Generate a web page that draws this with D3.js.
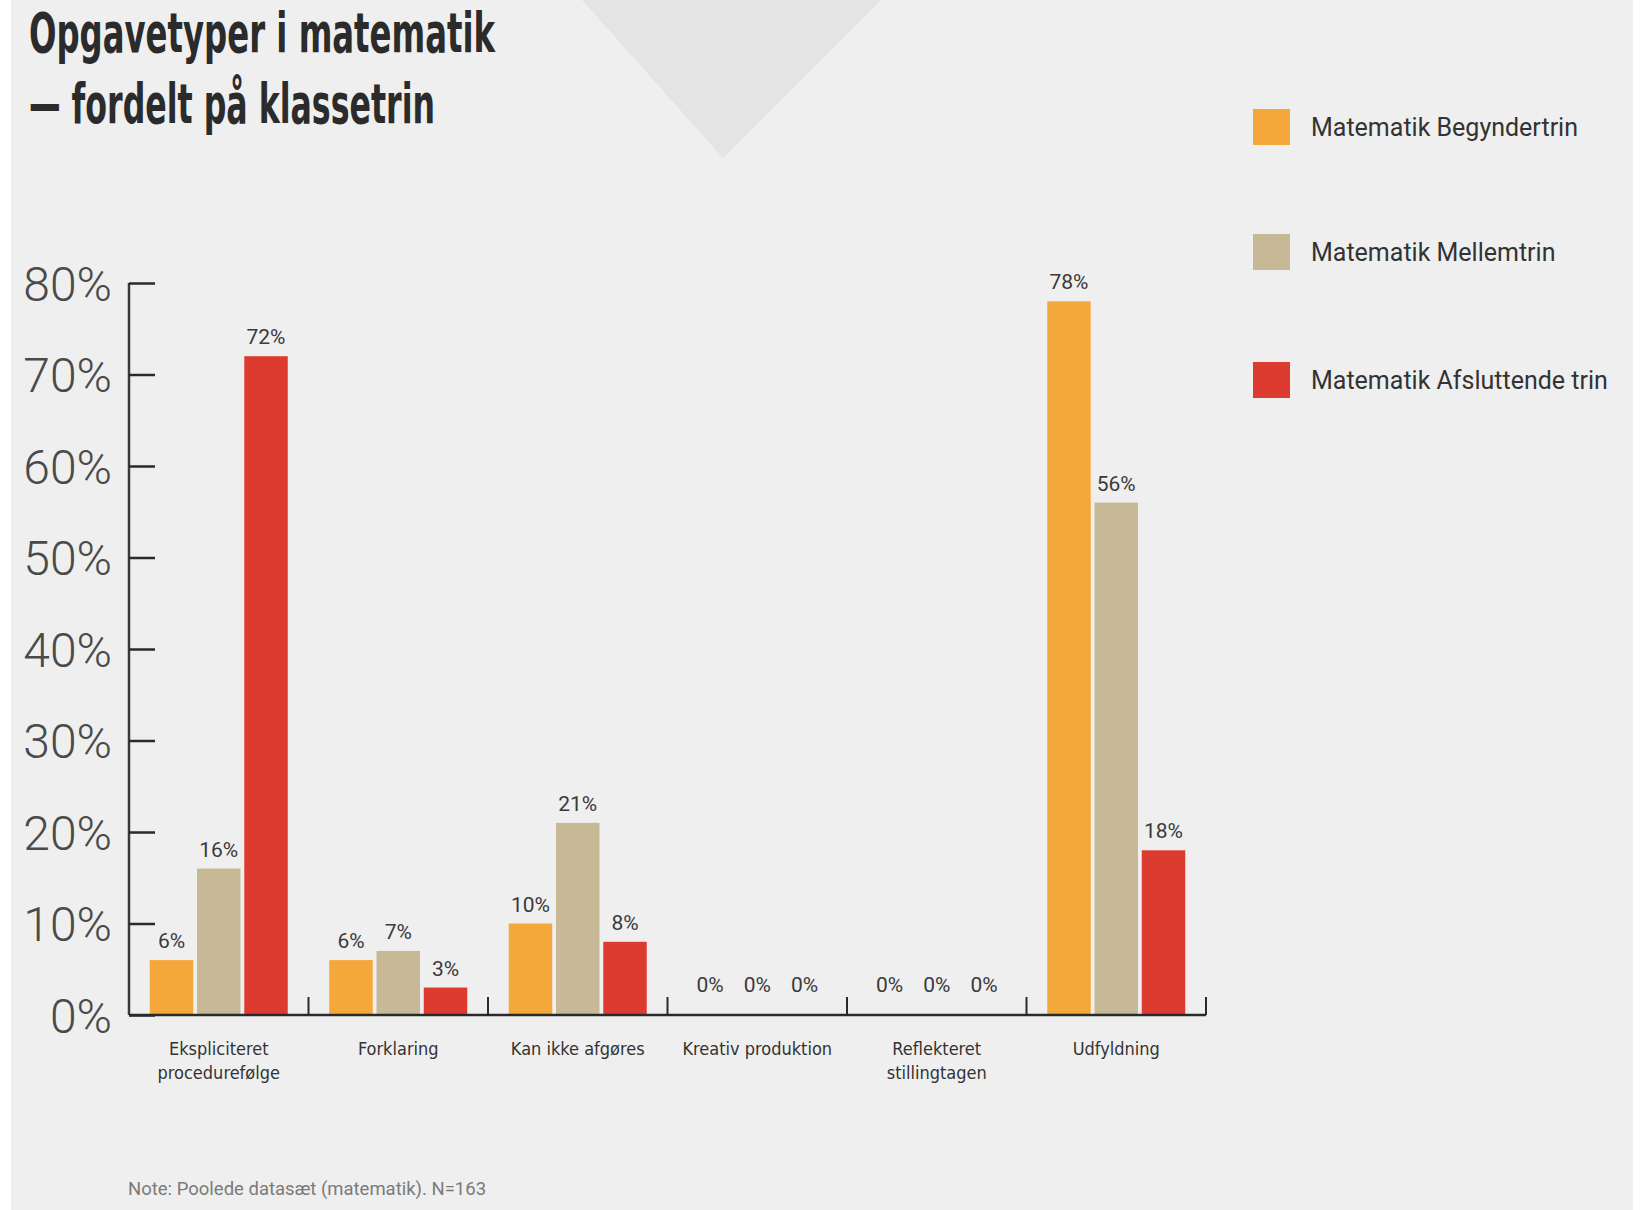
<!DOCTYPE html>
<html lang="da">
<meta charset="utf-8">
<title>Opgavetyper i matematik</title>
<script src="https://d3js.org/d3.v7.min.js"></script>
<style>
  body { margin: 0; background: #ffffff; }
  .tick-label { font-family: Roboto, "Liberation Sans", sans-serif; font-weight: 300; fill: #4a4a4a; }
  .cat-label { font-family: "Liberation Sans Narrow", "DejaVu Sans Condensed", sans-serif; fill: #333; }
  .val-label { font-family: Roboto, "Liberation Sans", sans-serif; fill: #3a3a3a; }
  .legend-text { font-family: Roboto, "Liberation Sans", sans-serif; fill: #333; }
</style>
<body>
<div id="chart"></div>
<script>
  // ---- data ----
  const categories = ["Ekspliciteret procedurefølge", "Forklaring", "Kan ikke afgøres",
                      "Kreativ produktion", "Reflekteret stillingtagen", "Udfyldning"];
  const categoryLines = [["Ekspliciteret", "procedurefølge"], ["Forklaring"], ["Kan ikke afgøres"],
                         ["Kreativ produktion"], ["Reflekteret", "stillingtagen"], ["Udfyldning"]];
  const series = ["Matematik Begyndertrin", "Matematik Mellemtrin", "Matematik Afsluttende trin"];
  const begyndertrin = [6, 6, 10, 0, 0, 78];
  const mellemtrin   = [16, 7, 21, 0, 0, 56];
  const afsluttende  = [72, 3, 8, 0, 0, 18];
  const yTicks = [0, 10, 20, 30, 40, 50, 60, 70, 80];
  const colors = ["#f4a83a", "#c7b995", "#de3b30"];

  const values = [begyndertrin, mellemtrin, afsluttende];

  const W = 1644, H = 1210;
  const svg = d3.select("#chart").append("svg")
    .attr("width", W).attr("height", H);

  // paper background
  svg.append("rect").attr("x", 11).attr("y", 0).attr("width", 1622).attr("height", H)
    .attr("fill", "#efefef");
  // faint shape from the printed page
  svg.append("polygon").attr("points", "582,0 881,0 723,158").attr("fill", "#e4e4e4");

  // ---- title ----
  const title = svg.append("g")
    .style("font-family", "'Liberation Sans Narrow', 'DejaVu Sans Condensed', sans-serif")
    .style("font-weight", "bold").style("fill", "#2b2b2b").style("font-size", "56px");
  title.append("text").attr("x", 29).attr("y", 52)
    .attr("textLength", 466).attr("lengthAdjust", "spacingAndGlyphs")
    .text("Opgavetyper i matematik");
  title.append("text").attr("x", 29).attr("y", 123)
    .attr("textLength", 406).attr("lengthAdjust", "spacingAndGlyphs")
    .text("— fordelt på klassetrin");

  // ---- scales ----
  const y = d3.scaleLinear().domain([0, 80]).range([1015, 283]);
  const x0 = d3.scaleBand().domain(categories).range([129, 1206]);
  const groupW = 138;
  const x1 = d3.scaleBand().domain(series).range([0, groupW]).paddingInner(0.08);
  const color = d3.scaleOrdinal().domain(series).range(colors);

  // ---- y axis ----
  const yAxis = svg.append("g")
    .attr("transform", "translate(129,0)")
    .call(d3.axisLeft(y).tickValues(yTicks).tickSize(-26).tickPadding(17)
      .tickFormat(d => d + "%"));
  yAxis.select(".domain").attr("stroke", "#3a3a3a").attr("stroke-width", 2.5)
    .attr("d", "M0," + y(80) + "V" + y(0));
  yAxis.selectAll(".tick line").attr("stroke", "#2a2a2a").attr("stroke-width", 2.5);
  yAxis.selectAll(".tick text").attr("class", "tick-label").style("font-size", "48px")
    .attr("dy", "0.36em");

  // ---- bars ----
  const rows = categories.map((c, i) => ({
    cat: c, lines: categoryLines[i],
    vals: series.map((s, j) => ({ s: s, v: values[j][i] }))
  }));
  const offset = (x0.bandwidth() - groupW) / 2;

  const groups = svg.append("g").selectAll("g").data(rows).join("g")
    .attr("transform", d => "translate(" + (x0(d.cat) + offset) + ",0)");

  groups.selectAll("rect").data(d => d.vals).join("rect")
    .attr("x", d => x1(d.s))
    .attr("y", d => y(d.v))
    .attr("width", x1.bandwidth())
    .attr("height", d => y(0) - y(d.v))
    .attr("fill", d => color(d.s));

  groups.selectAll("text").data(d => d.vals).join("text")
    .attr("class", "val-label")
    .attr("x", d => x1(d.s) + x1.bandwidth() / 2)
    .attr("y", d => Math.min(y(d.v) - 12, y(0) - 23))
    .attr("text-anchor", "middle")
    .style("font-size", "21px")
    .text(d => d.v + "%");

  // ---- x axis ----
  const xAxis = svg.append("g");
  xAxis.append("line").attr("x1", 129).attr("x2", 1206)
    .attr("y1", y(0)).attr("y2", y(0))
    .attr("stroke", "#2a2a2a").attr("stroke-width", 2.5);
  xAxis.selectAll(".sep").data(categories).join("line")
    .attr("class", "sep")
    .attr("x1", d => x0(d) + x0.bandwidth()).attr("x2", d => x0(d) + x0.bandwidth())
    .attr("y1", y(0)).attr("y2", y(0) - 18)
    .attr("stroke", "#2a2a2a").attr("stroke-width", 2);

  const catText = xAxis.selectAll(".cat-label").data(rows).join("text")
    .attr("class", "cat-label")
    .attr("text-anchor", "middle")
    .style("font-size", "18px");
  catText.selectAll("tspan").data(d => d.lines.map(l => ({ l: l, cx: x0(d.cat) + x0.bandwidth() / 2 })))
    .join("tspan")
    .attr("x", d => d.cx)
    .attr("y", (d, i) => 1055 + i * 24)
    .text(d => d.l);

  // ---- legend ----
  const legendY = [127, 252, 380];
  const legend = svg.append("g").selectAll("g").data(series).join("g")
    .attr("transform", (d, i) => "translate(1253," + legendY[i] + ")");
  legend.append("rect").attr("x", 0).attr("y", -18).attr("width", 37).attr("height", 36)
    .attr("fill", d => color(d));
  legend.append("text").attr("class", "legend-text")
    .attr("x", 58).attr("dy", "0.35em").style("font-size", "25px")
    .text(d => d);

  // ---- note ----
  svg.append("text").attr("x", 128).attr("y", 1195)
    .style("font-family", "Roboto, 'Liberation Sans', sans-serif")
    .style("font-size", "18.5px").style("fill", "#7a7a7a")
    .text("Note: Poolede datasæt (matematik). N=163");
</script>
</body>
</html>
